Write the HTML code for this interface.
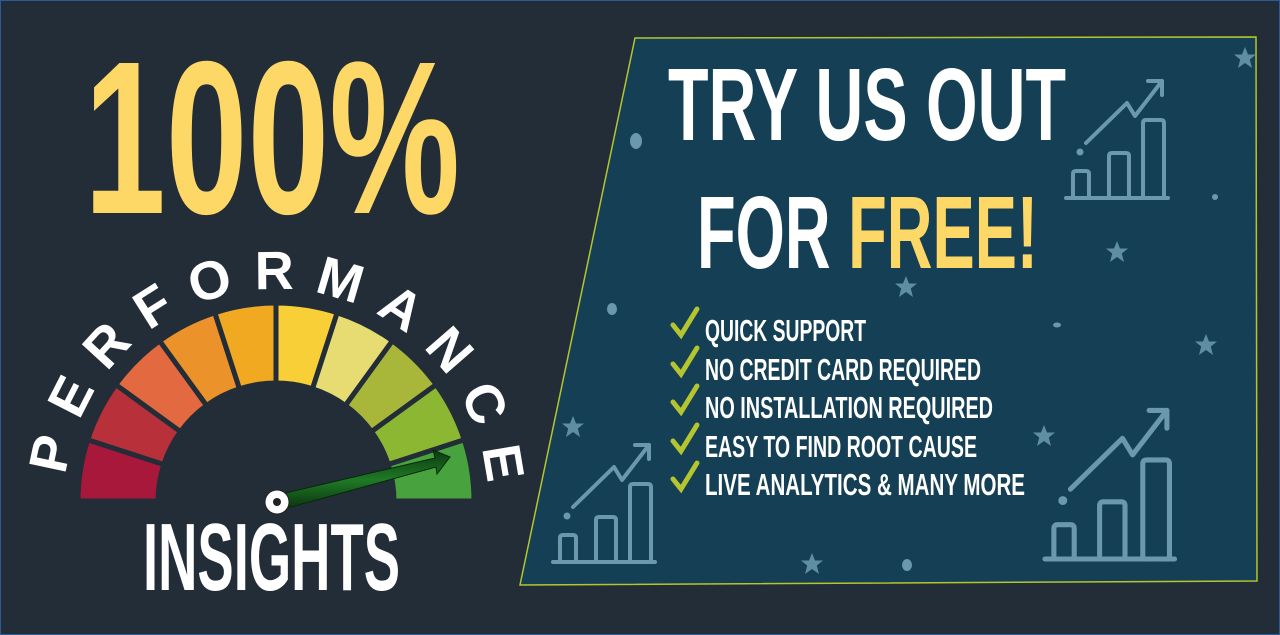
<!DOCTYPE html>
<html><head><meta charset="utf-8"><style>
html,body{margin:0;padding:0;background:#222d38;}
svg{display:block}
text{font-family:"Liberation Sans Narrow","Liberation Sans",sans-serif;font-weight:bold}
</style></head><body>
<svg id="s" width="1280" height="635" viewBox="0 0 1280 635" xmlns="http://www.w3.org/2000/svg">
<defs>
<linearGradient id="ng" x1="0" y1="0" x2="0" y2="1"><stop offset="0" stop-color="#0c3a10"/><stop offset="0.5" stop-color="#1f7a26"/><stop offset="1" stop-color="#0a300d"/></linearGradient>
<g id="ic" fill="none" stroke="#6b98ab" stroke-width="4" stroke-linecap="round" stroke-linejoin="round">
<line x1="0" y1="0" x2="102" y2="0"/>
<path d="M7 0V-24Q7 -27 10 -27H20Q23 -27 23 -24V0"/>
<path d="M43 0V-42Q43 -45 46 -45H60Q63 -45 63 -42V0"/>
<path d="M77 0V-75Q77 -78 80 -78H95Q98 -78 98 -75V0"/>
<path d="M20 -55L61 -95L69 -82L96 -117"/>
<path d="M82 -117H96V-103"/>
<circle cx="14" cy="-46" r="1.5" fill="#6b98ab"/>
</g>
<path id="st" d="M0,-11 L3,-3.5 11,-3.5 4.8,1.5 7,10 0,5 -7,10 -4.8,1.5 -11,-3.5 -3,-3.5Z" fill="#5f8ea3"/>
<path id="arc" d="M 67.2 537.8 A 212 212 0 1 1 484.8 537.8"/>
</defs>
<rect width="1280" height="635" fill="#222d38"/>
<rect x="0.5" y="0.5" width="1279" height="634" fill="none" stroke="#2f5a9a" stroke-width="1"/>

<text x="84" y="213" fill="#fed866" font-size="218" textLength="376" lengthAdjust="spacingAndGlyphs">100%</text>

<g id="gauge"></g>
<text fill="#fff" font-size="54" font-family="Liberation Sans" font-weight="bold"><textPath href="#arc" startOffset="63" textLength="622" lengthAdjust="spacing">PERFORMANCE</textPath></text>

<path d="M277 495 L435 458 L433 450 L450 457 L437 474 L436 467 L280 510 Z" fill="url(#ng)" stroke="#062a08" stroke-width="1"/>
<circle cx="277" cy="502" r="12" fill="#fff" stroke="#222" stroke-width="1"/>
<circle cx="277" cy="502" r="4" fill="#222"/>

<text x="143" y="590" fill="#fff" font-size="96" textLength="257" lengthAdjust="spacingAndGlyphs">INSIGHTS</text>

<polygon points="635,38 1256,37 1257,581 520,585" fill="#143f55" stroke="#b5c52f" stroke-width="1.5"/>
<ellipse cx="636" cy="141" rx="6" ry="8" fill="#6b98ab"/>
<ellipse cx="612" cy="309" rx="5" ry="6" fill="#6b98ab"/>
<circle cx="1215" cy="197" r="3" fill="#6b98ab"/>
<ellipse cx="1057" cy="325" rx="4" ry="2.5" fill="#6b98ab"/>
<ellipse cx="907" cy="565" rx="5" ry="6" fill="#6b98ab"/>
<use href="#st" x="1245" y="58"/><use href="#st" x="1117" y="252"/><use href="#st" x="906" y="287"/>
<use href="#st" x="1206" y="345"/><use href="#st" x="573" y="427"/><use href="#st" x="1044" y="436"/><use href="#st" x="812" y="564"/>
<use href="#ic" transform="translate(1066,198)"/>
<use href="#ic" transform="translate(553,562)"/>
<use href="#ic" transform="translate(1045,559) scale(1.27)"/>

<text x="668" y="140" fill="#fff" font-size="103" textLength="398" lengthAdjust="spacingAndGlyphs">TRY US OUT</text>
<text x="697" y="268" fill="#fff" font-size="103" textLength="341" lengthAdjust="spacingAndGlyphs">FOR <tspan fill="#fed866">FREE!</tspan></text>

<g fill="#fff" font-size="31">
<text x="705" y="341" textLength="161" lengthAdjust="spacingAndGlyphs">QUICK SUPPORT</text>
<text x="705" y="380" textLength="276" lengthAdjust="spacingAndGlyphs">NO CREDIT CARD REQUIRED</text>
<text x="705" y="418" textLength="288" lengthAdjust="spacingAndGlyphs">NO INSTALLATION REQUIRED</text>
<text x="705" y="457" textLength="272" lengthAdjust="spacingAndGlyphs">EASY TO FIND ROOT CAUSE</text>
<text x="705" y="495" textLength="320" lengthAdjust="spacingAndGlyphs">LIVE ANALYTICS &amp; MANY MORE</text>
</g>
<g fill="none" stroke="#b5c52f" stroke-width="5" stroke-linecap="round">
<path d="M673 325 L681 335 L697 309"/>
<path d="M673 364 L681 374 L697 348"/>
<path d="M673 402 L681 412 L697 386"/>
<path d="M673 441 L681 451 L697 425"/>
<path d="M673 479 L681 489 L697 463"/>
</g>
</svg>
<script>
(function(){
var g=document.getElementById('gauge'),cx=276,cy=501,R=198,r=118;
var cols=['#a8183b','#b8303a','#e36a40','#ec922b','#f0a920','#f8cf36','#e6dc72','#a8b63a','#8cb733','#48a23d'];
var ns='http://www.w3.org/2000/svg';
for(var i=0;i<10;i++){
 var a1=Math.PI-(i*18)*Math.PI/180,a2=Math.PI-((i+1)*18)*Math.PI/180;
 var p=function(a,rr){return (cx+rr*Math.cos(a)).toFixed(1)+' '+(cy-rr*Math.sin(a)).toFixed(1);};
 var d='M'+p(a1,r)+' L'+p(a1,R)+' A'+R+' '+R+' 0 0 1 '+p(a2,R)+' L'+p(a2,r)+' A'+r+' '+r+' 0 0 0 '+p(a1,r)+'Z';
 var e=document.createElementNS(ns,'path');e.setAttribute('d',d);e.setAttribute('fill',cols[i]);
 e.setAttribute('stroke','#222d38');e.setAttribute('stroke-width','5');g.appendChild(e);
}
})();
</script>
</body></html>
